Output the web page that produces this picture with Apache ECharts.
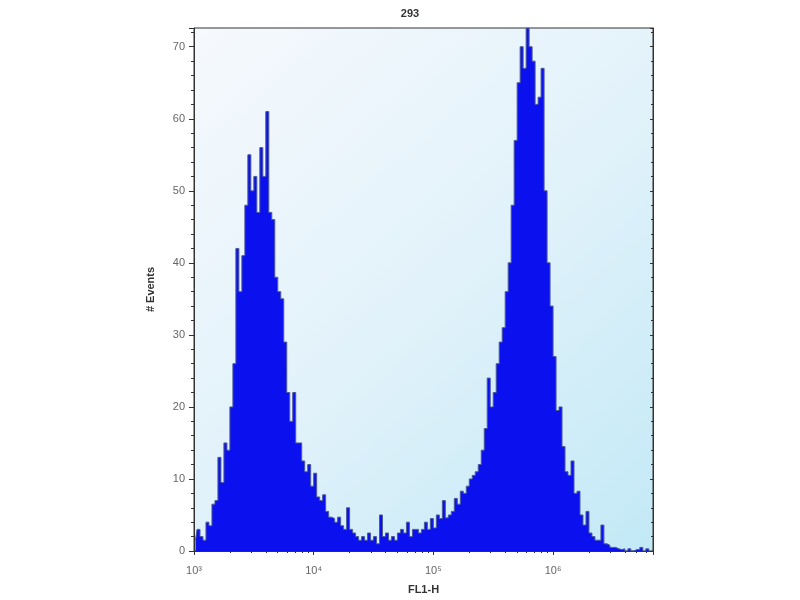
<!DOCTYPE html>
<html>
<head>
<meta charset="utf-8">
<script src="https://cdn.jsdelivr.net/npm/echarts@6/dist/echarts.min.js"></script>
<style>html,body{margin:0;padding:0;background:#fff}#c{width:800px;height:600px}</style>
</head>
<body>
<div id="c"></div>
<script>
// Histogram bins: log10(FL1-H) bin start and width
const binStartLog = 3.0;
const binWidthLog = 0.025;
// # Events per bin
const eventCounts = [
  1.5, 3, 2, 1.5, 4, 3.5, 6.5, 7, 13, 9.5,
  15, 14, 20, 26, 42, 36, 41, 48, 55, 50,
  52, 47, 56, 52, 61, 47, 46, 38, 36, 35,
  29, 22, 18, 22, 15, 15, 12.5, 11, 12, 9,
  10.8, 7.5, 7, 7.8, 5.5, 4.7, 4.5, 4, 4.7, 3.5,
  3, 6, 3, 2.5, 2, 1.5, 2, 1.5, 2.5, 1.5,
  2, 1, 5, 2, 2.5, 1.5, 2, 1.5, 2.5, 3,
  2.5, 4, 2, 3, 3, 2.5, 3, 4, 3, 4.5,
  3.2, 5, 4.5, 7, 4.6, 5, 5.5, 7.3, 6.5, 8.3,
  8, 9, 10, 10.5, 11, 12, 14, 17, 24, 20,
  22, 26, 29, 31, 36, 40, 48, 57, 65, 70,
  67, 72.6, 70, 68, 62, 63, 67, 50, 40, 34,
  27, 19.5, 20, 14.5, 11, 10.5, 12.5, 8, 8.3, 5,
  3.6, 5.5, 2.5, 2, 1.5, 1.5, 3.6, 1, 0.8, 0.5,
  0.5, 0.3, 0.2, 0.3, 0, 0.3, 0, 0.2, 0.2, 0.5,
  0, 0.3, 0
];
const xTickExponents = [3, 4, 5, 6];
const yTicks = [0, 10, 20, 30, 40, 50, 60, 70];
const titleText = '293';
const xName = 'FL1-H';
const yName = '# Events';

const sup = {'0':'⁰','1':'¹','2':'²','3':'³','4':'⁴','5':'⁵','6':'⁶','7':'⁷','8':'⁸','9':'⁹'};
const seriesData = eventCounts.map((v, i) => [Math.pow(10, binStartLog + binWidthLog * (i + 0.5)), v]);

const chart = echarts.init(document.getElementById('c'), null, {renderer: 'canvas'});
chart.setOption({
  animation: false,
  backgroundColor: '#ffffff',
  title: {
    text: titleText, left: 405, top: 3, textAlign: 'center',
    textStyle: {fontFamily: 'Liberation Sans, Arial', fontSize: 11, fontWeight: 'bold', color: '#333'}
  },
  grid: {
    left: 194, right: 147, top: 28, bottom: 48, show: true,
    borderColor: '#333', borderWidth: 1,
    backgroundColor: new echarts.graphic.LinearGradient(0, 0, 1, 1, [
      {offset: 0, color: '#f6f9fd'},
      {offset: 0.5, color: '#e2f2fa'},
      {offset: 1, color: '#c2e9f6'}
    ])
  },
  xAxis: [{
    type: 'log', logBase: 10, min: 1000, max: 6840000,
    name: xName, nameLocation: 'middle', nameGap: 33,
    nameTextStyle: {fontFamily: 'Liberation Sans, Arial', fontSize: 11, fontWeight: 'bold', color: '#333'},
    axisLine: {show: true, lineStyle: {color: '#333', width: 1}},
    axisTick: {show: true, inside: false, length: 4, lineStyle: {color: '#333'}},
    minorTick: {show: true, splitNumber: 9, length: 2, lineStyle: {color: '#333'}},
    splitLine: {show: false},
    axisLabel: {
      margin: 14, color: '#666', fontFamily: 'Liberation Sans, Arial', fontSize: 11,
      showMaxLabel: false,
      formatter: v => {
        const e = Math.round(Math.log10(v));
        return xTickExponents.includes(e) ? '10' + sup[String(e)] : '';
      }
    }
  }, {
    type: 'log', logBase: 10, min: 1000, max: 6840000, position: 'top',
    axisLine: {show: true, lineStyle: {color: '#333'}},
    axisTick: {show: true, inside: true, length: 3, lineStyle: {color: '#333'}},
    minorTick: {show: true, splitNumber: 9, length: 2, lineStyle: {color: '#333'}},
    axisLabel: {show: false}, splitLine: {show: false}
  }],
  yAxis: [{
    type: 'value', min: 0, max: 72.6, interval: 10,
    name: yName, nameLocation: 'middle', nameGap: 38, nameRotate: 90,
    nameTextStyle: {fontFamily: 'Liberation Sans, Arial', fontSize: 11, fontWeight: 'bold', color: '#333'},
    axisLine: {show: true, lineStyle: {color: '#333', width: 1}},
    axisTick: {show: true, inside: false, length: 5, lineStyle: {color: '#333'}},
    minorTick: {show: true, splitNumber: 5, length: 3, lineStyle: {color: '#333'}},
    splitLine: {show: false},
    axisLabel: {
      margin: 9, color: '#666', fontFamily: 'Liberation Sans, Arial', fontSize: 11,
      showMaxLabel: false,
      formatter: v => yTicks.includes(v) ? String(v) : ''
    }
  }, {
    type: 'value', min: 0, max: 72.6, interval: 10, position: 'right',
    axisLine: {show: true, lineStyle: {color: '#333'}},
    axisTick: {show: true, inside: true, length: 3, lineStyle: {color: '#333'}},
    minorTick: {show: true, splitNumber: 5, length: 2, lineStyle: {color: '#333'}},
    axisLabel: {show: false}, splitLine: {show: false}
  }],
  series: [{
    type: 'line', xAxisIndex: 0, yAxisIndex: 0,
    data: seriesData, step: 'middle', symbol: 'none',
    lineStyle: {color: '#4d5a9a', width: 1},
    areaStyle: {color: '#0a10ee', opacity: 1},
    z: 3
  }]
});
</script>
</body>
</html>
